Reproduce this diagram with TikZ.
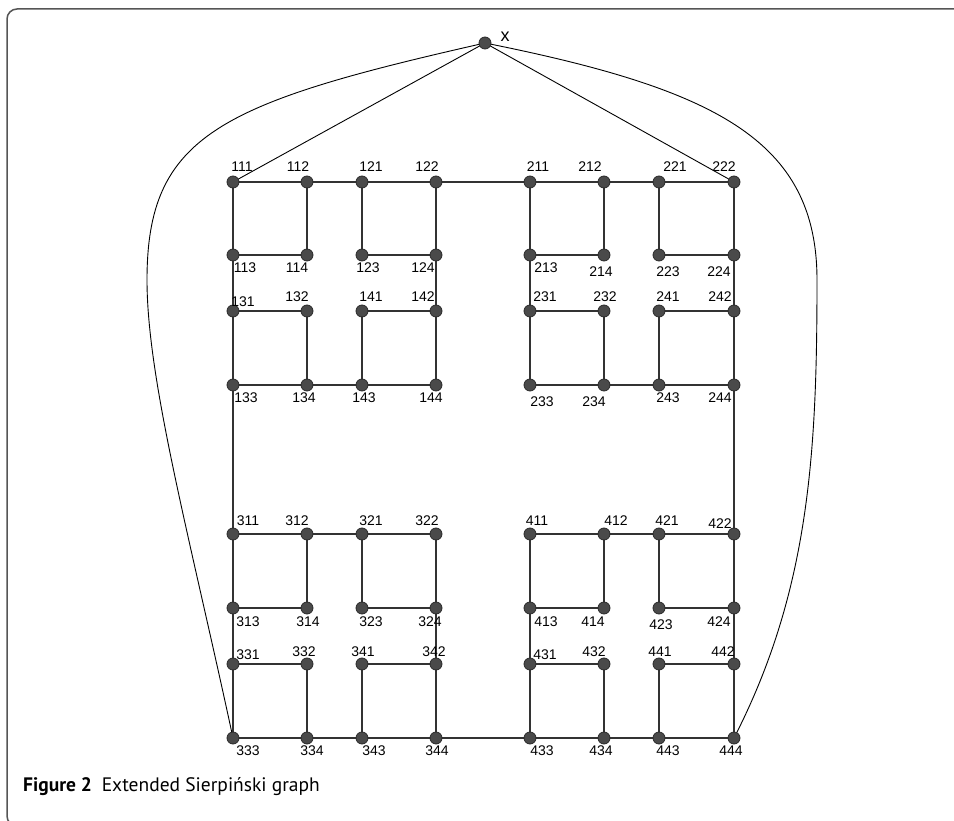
\documentclass[tikz,border=0pt]{standalone}
\usepackage{fontspec}
\setmainfont{Liberation Sans}
\newfontfamily\capfont{PT Sans}
\usetikzlibrary{backgrounds}
\definecolor{vfill}{HTML}{4A4A4A}
\definecolor{vline}{HTML}{2A2A2A}
\definecolor{eline}{HTML}{333333}
\definecolor{framecol}{HTML}{555555}
\tikzset{
  vtx/.style={circle,fill=vfill,draw=vline,line width=0.8pt,minimum size=12pt,inner sep=0pt},
  lbl/.style={inner sep=0pt,font=\fontsize{14}{16}\selectfont,text=black},
  gedge/.style={draw=eline,line width=1.4pt},
  xedge/.style={draw=black,line width=0.9pt},
}
\begin{document}
\begin{tikzpicture}[x=1pt,y=-1pt]
\useasboundingbox (0,0) rectangle (954,821);
\begin{scope}
\clip (0,0) rectangle (954,821);
\draw[framecol,line width=1.5pt,rounded corners=10pt] (965,9) -- (7,9) -- (7,826) -- (40,826);
\end{scope}
\foreach \n/\x/\y/\dx/\dy in {
111/233/182/9/-15, 112/307/182/-9/-15, 121/362/182/9/-15, 122/436/182/-9/-15,
113/233/255/12/13, 114/307/255/-10/13, 123/362/255/6/13, 124/436/255/-13/13,
131/233/311/10/-9, 132/307/311/-10/-14, 141/362/311/9/-14, 142/436/311/-13/-14,
133/233/385/13/13, 134/307/385/-3/13, 143/362/385/2/13, 144/436/385/-5/13,
211/530/182/8/-15, 212/604/182/-14/-15, 221/659/182/16/-15, 222/734/182/-10/-15,
213/530/255/16/13, 214/604/255/-3/17, 223/659/255/9/17, 224/734/255/-15/17,
231/530/311/15/-14, 232/604/311/1/-14, 241/659/311/9/-14, 242/734/311/-14/-14,
233/530/385/12/17, 234/604/385/-10/17, 243/659/385/9/13, 244/734/385/-14/13,
311/233/534/15/-13, 312/307/534/-10/-13, 321/362/534/9/-13, 322/436/534/-9/-13,
313/233/608/15/14, 314/307/608/1/14, 323/362/608/9/14, 324/436/608/-6/14,
331/233/664/15/-9, 332/307/664/-3/-12, 341/362/664/1/-12, 342/436/664/-2/-12,
333/233/738/15/13, 334/307/738/5/13, 343/362/738/12/13, 344/436/738/1/13,
411/530/534/7/-13, 412/604/534/12/-13, 421/659/534/8/-13, 422/734/534/-14/-10,
413/530/608/16/14, 414/604/608/-11/14, 423/659/608/2/17, 424/734/608/-15/14,
431/530/664/15/-9, 432/604/664/-10/-12, 441/659/664/1/-12, 442/734/664/-11/-12,
433/530/738/12/13, 434/604/738/-3/13, 443/659/738/9/13, 444/734/738/-3/13}
{
  \node[vtx] (n\n) at (\x,\y) {};
  \node[lbl] (l\n) at ({\x+\dx},{\y+\dy}) {\n};
}
\node[vtx] (nx) at (485,43) {};
\node[lbl,font=\fontsize{18}{20}\selectfont] (lx) at (505,37) {x};
\coordinate (lmid) at (147,280);
\coordinate (rmid) at (817,280);
\begin{scope}[on background layer]
\foreach \w in {11,12,13,14,21,22,23,24,31,32,33,34,41,42,43,44}{
  \draw[gedge] (n\w1.center) -- (n\w2.center);
  \draw[gedge] (n\w1.center) -- (n\w3.center);
  \draw[gedge] (n\w2.center) -- (n\w4.center);
  \draw[gedge] (n\w3.center) -- (n\w4.center);
}
\foreach \a in {1,2,3,4}{
  \draw[gedge] (n\a12.center) -- (n\a21.center);
  \draw[gedge] (n\a13.center) -- (n\a31.center);
  \draw[gedge] (n\a24.center) -- (n\a42.center);
  \draw[gedge] (n\a34.center) -- (n\a43.center);
}
\draw[gedge] (n122.center) -- (n211.center);
\draw[gedge] (n133.center) -- (n311.center);
\draw[gedge] (n244.center) -- (n422.center);
\draw[gedge] (n344.center) -- (n433.center);
\draw[xedge] (nx.center) -- (n111.center);
\draw[xedge] (nx.center) -- (n222.center);
\draw[xedge] (nx.center) .. controls (220,103) and (147,135) .. (lmid)
  .. controls (147,380) and (190,538) .. (n333.center);
\draw[xedge] (nx.center) .. controls (715,89) and (817,140) .. (rmid)
  .. controls (817,450) and (810,590) .. (n444.center);
\end{scope}
\node[anchor=base west,inner sep=0pt,font=\capfont\fontsize{19.5}{22}\selectfont] (cap) at (23,791) {\textbf{Figure 2}\hspace{0.5em}Extended Sierpiński graph};
\end{tikzpicture}
\end{document}
